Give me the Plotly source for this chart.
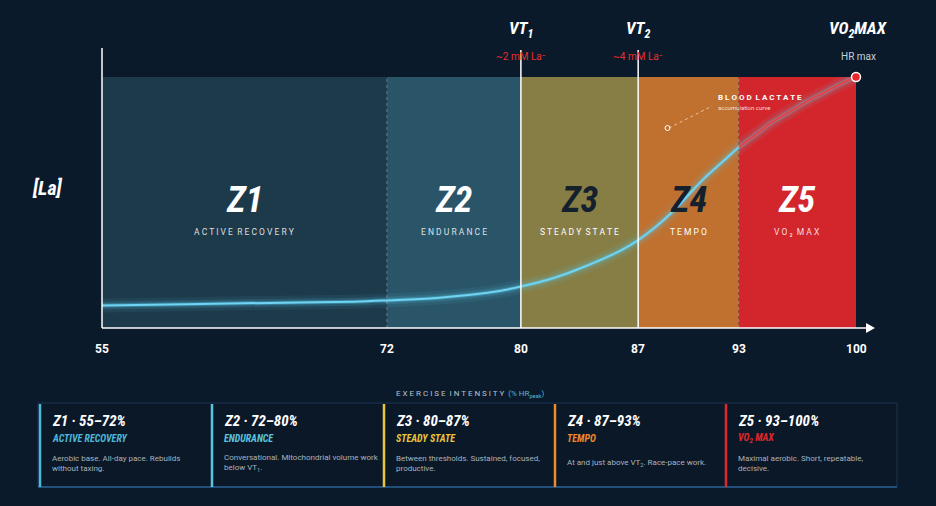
import plotly.graph_objects as go

# zones
zone_edges = [55, 72, 80, 87, 93, 100]
zone_names = ["Z1", "Z2", "Z3", "Z4", "Z5"]
zone_subs = ["ACTIVE RECOVERY", "ENDURANCE", "STEADY STATE", "TEMPO", "VO₂ MAX"]
zone_colors = ["#1d3a4b", "#2a5569", "#877e46", "#c0702f", "#d3262c"]
zone_label_colors = ["#ffffff", "#ffffff", "#14202c", "#14202c", "#ffffff"]
card_colors = ["#4fb8d8", "#5cc4de", "#e8c63a", "#f0892a", "#e0282c"]
card_titles = ["Z1 · 55–72%", "Z2 · 72–80%", "Z3 · 80–87%", "Z4 · 87–93%", "Z5 · 93–100%"]
card_subs = ["ACTIVE RECOVERY", "ENDURANCE", "STEADY STATE", "TEMPO", "VO<sub>2</sub> MAX"]
card_texts = [
    "Aerobic base. All-day pace. Rebuilds<br>without taxing.",
    "Conversational. Mitochondrial volume work<br>below VT<sub>1</sub>.",
    "Between thresholds. Sustained, focused,<br>productive.",
    "At and just above VT<sub>2</sub>. Race-pace work.",
    "Maximal aerobic. Short, repeatable,<br>decisive.",
]
tick_vals = [55, 72, 80, 87, 93, 100]

# lactate curve (relative units)
hr = [55, 60, 65, 70, 72, 75, 78, 80, 82, 84, 86, 87, 88, 89, 90, 91, 92, 93, 94, 95, 96, 97, 98, 99, 100]
la = [0.09, 0.095, 0.10, 0.105, 0.11, 0.12, 0.14, 0.165, 0.20, 0.25, 0.31, 0.35, 0.40, 0.46, 0.53, 0.60, 0.66, 0.72, 0.77, 0.82, 0.86, 0.90, 0.935, 0.97, 1.0]

BG = "#0b1a2b"
FONT = "Liberation Sans Narrow, Roboto Condensed, Roboto, sans-serif"
TXT = "Roboto, Liberation Sans, sans-serif"
L, R, T, B = 102, 856, 77, 328


def px(x):
    return (x - L) / (R - L)


def py(y):
    return (B - y) / (B - T)


fig = go.Figure()

shapes = []
for i in range(5):
    shapes.append(dict(type="rect", xref="x", yref="paper", x0=zone_edges[i], x1=zone_edges[i + 1],
                       y0=0, y1=1, fillcolor=zone_colors[i], line_width=0, layer="below"))
for x in [72, 93]:
    shapes.append(dict(type="line", xref="x", yref="paper", x0=x, x1=x, y0=0, y1=1,
                       line=dict(color="rgba(255,255,255,0.3)", width=1, dash="dot")))
for x in [80, 87]:
    shapes.append(dict(type="line", xref="x", yref="paper", x0=x, x1=x, y0=0, y1=py(50),
                       line=dict(color="#ffffff", width=1.5)))
# axes
shapes.append(dict(type="line", xref="paper", yref="paper", x0=0, x1=0, y0=0, y1=py(48),
                   line=dict(color="#ffffff", width=1.5)))
shapes.append(dict(type="line", xref="paper", yref="paper", x0=0, x1=px(866), y0=0, y1=0,
                   line=dict(color="#ffffff", width=1.5)))
shapes.append(dict(type="path", xref="paper", yref="paper",
                   path=f"M {px(866)} {py(323)} L {px(875)} {py(328)} L {px(866)} {py(333)} Z",
                   fillcolor="#ffffff", line_width=0))
# cards
shapes.append(dict(type="rect", xref="paper", yref="paper", x0=px(38), x1=px(897), y0=py(487), y1=py(403),
                   fillcolor="#0a1828", line=dict(color="#1a3550", width=1)))
shapes.append(dict(type="line", xref="paper", yref="paper", x0=px(38), x1=px(897), y0=py(487), y1=py(487),
                   line=dict(color="#23507a", width=2)))
card_x = [40, 212, 384, 555, 726]
for i, cx in enumerate(card_x):
    shapes.append(dict(type="line", xref="paper", yref="paper", x0=px(cx), x1=px(cx), y0=py(487), y1=py(404),
                       line=dict(color=card_colors[i], width=2.5)))
# annotation leader
shapes.append(dict(type="line", xref="paper", yref="paper", x0=px(669), x1=px(712), y0=py(128), y1=py(106),
                   line=dict(color="rgba(255,255,255,0.6)", width=1, dash="dot")))

# curve glow
for w, a in [(14, 0.08), (8, 0.15), (4, 0.35)]:
    fig.add_trace(go.Scatter(x=hr, y=la, mode="lines", line=dict(color=f"rgba(90,200,235,{a})", width=w, shape="spline"),
                             hoverinfo="skip", showlegend=False))
fig.add_trace(go.Scatter(x=hr[:18], y=la[:18], mode="lines", line=dict(color="#6fd3f2", width=2, shape="spline"),
                         showlegend=False))
fig.add_trace(go.Scatter(x=hr[17:], y=la[17:], mode="lines", line=dict(color="rgba(240,60,60,0.9)", width=2, shape="spline"),
                         showlegend=False))
fig.add_trace(go.Scatter(x=[100], y=[1.0], mode="markers", marker=dict(color="#e8262c", size=9, line=dict(color="#fff", width=1.5)),
                         showlegend=False, cliponaxis=False))
fig.add_trace(go.Scatter(x=[88.75], y=[py(128)], mode="markers", marker=dict(color="rgba(0,0,0,0)", size=5, line=dict(color="#fff", width=1)),
                         showlegend=False))

ann = []
for i in range(5):
    mid = (zone_edges[i] + zone_edges[i + 1]) / 2
    ann.append(dict(x=mid, y=py(200), xref="x", text=f"<b><i>{zone_names[i]}</i></b>",
                    font=dict(family=FONT, size=36, color=zone_label_colors[i])))
    ann.append(dict(x=mid, y=py(232), xref="x", text=" ".join(zone_subs[i]).replace("   ", "  "),
                    font=dict(family=TXT, size=8.5, color="rgba(255,255,255,0.85)" if i not in (2, 3) else "#ffffff")))
for v in tick_vals:
    ann.append(dict(x=v, y=py(349), xref="x", text=f"<b>{v}</b>",
                    font=dict(family=TXT, size=12, color="#ffffff")))
ann += [
    dict(x=px(48), y=py(188), text="<b><i>[La]</i></b>", font=dict(family=FONT, size=20, color="#ffffff")),
    dict(x=px(521), y=py(30), text="<b><i>VT<sub>1</sub></i></b>", font=dict(family=FONT, size=17, color="#ffffff")),
    dict(x=px(638), y=py(30), text="<b><i>VT<sub>2</sub></i></b>", font=dict(family=FONT, size=17, color="#ffffff")),
    dict(x=px(521), y=py(56), text="~2 mM La⁻", font=dict(family=TXT, size=10, color="#e8302c")),
    dict(x=px(638), y=py(56), text="~4 mM La⁻", font=dict(family=TXT, size=10, color="#e8302c")),
    dict(x=px(858), y=py(30), text="<b><i>VO<sub>2</sub>MAX</i></b>", font=dict(family=FONT, size=17, color="#ffffff")),
    dict(x=px(858), y=py(56), text="HR max", font=dict(family=TXT, size=10, color="#c8d0da")),
    dict(x=px(716), y=py(97), xanchor="left", text="<b>B L O O D  L A C T A T E</b>", font=dict(family=TXT, size=8, color="#ffffff")),
    dict(x=px(716), y=py(107), xanchor="left", text="accumulation curve", font=dict(family=TXT, size=6, color="rgba(255,255,255,0.8)")),
    dict(x=px(470), y=py(394), text="E X E R C I S E  I N T E N S I T Y  <span style='color:#4fb8d8'>(% HR<sub>peak</sub>)</span>",
         font=dict(family=TXT, size=8, color="#b8c2cc")),
]
for i, cx in enumerate(card_x):
    ann.append(dict(x=px(cx + 10), y=py(421), xanchor="left", text=f"<b><i>{card_titles[i]}</i></b>",
                    font=dict(family=FONT, size=15, color="#ffffff")))
    ann.append(dict(x=px(cx + 10), y=py(438), xanchor="left", text=f"<b><i>{card_subs[i]}</i></b>",
                    font=dict(family=FONT, size=10, color=card_colors[i])))
    ann.append(dict(x=px(cx + 10), y=py(463), xanchor="left", align="left", text=card_texts[i],
                    font=dict(family=TXT, size=8, color="#a9b3be")))
for a in ann:
    a.setdefault("xref", "paper")
    a["yref"] = "paper"
    a.setdefault("xanchor", "center")
    a["yanchor"] = "middle"
    a["showarrow"] = False

fig.update_layout(
    width=936, height=506, margin=dict(l=L, r=936 - R, t=T, b=506 - B),
    paper_bgcolor=BG, plot_bgcolor=BG, shapes=shapes, annotations=ann,
    xaxis=dict(range=[55, 100], visible=False),
    yaxis=dict(range=[0, 1], visible=False),
    hovermode=False,
)
fig.write_html("out.html", config={"displayModeBar": False},
               post_script="document.body.style.margin='0';document.body.style.background='#0b1a2b';")
